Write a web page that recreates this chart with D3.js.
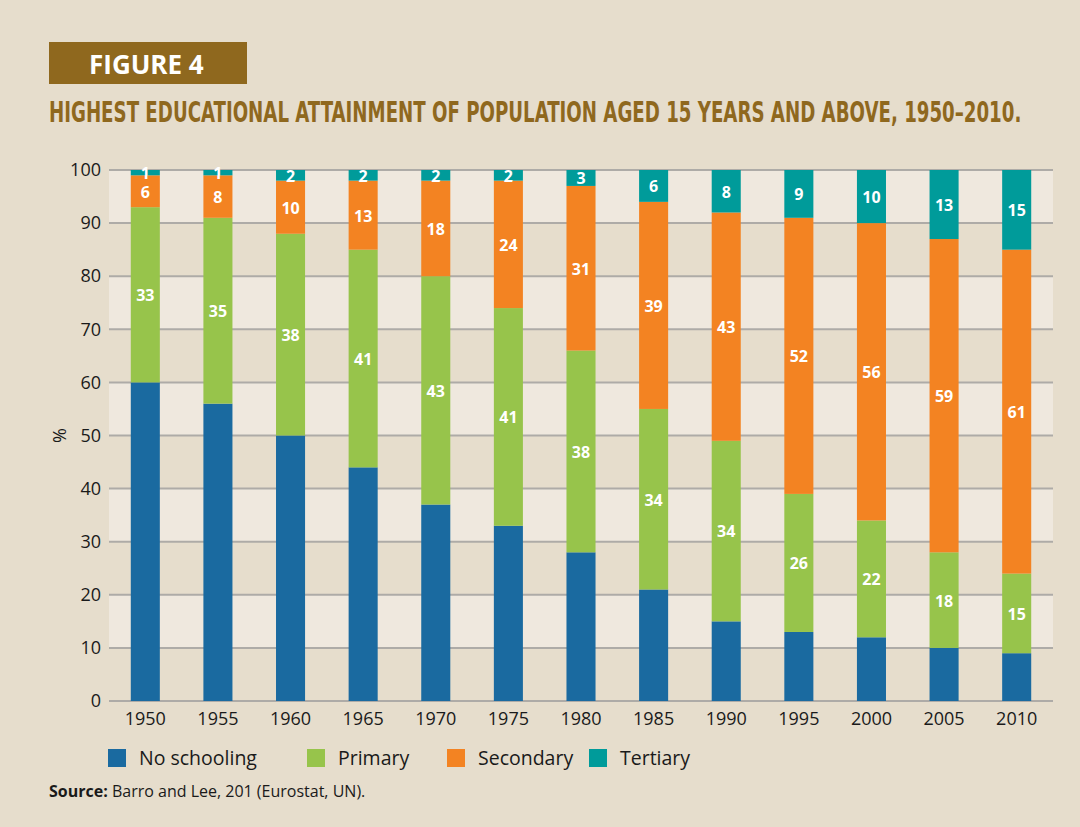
<!DOCTYPE html>
<html>
<head>
<meta charset="utf-8">
<script src="https://cdn.jsdelivr.net/npm/d3@7"></script>
<style>
  html, body { margin: 0; padding: 0; background: #e6ddcc; }
  svg { display: block; }
</style>
</head>
<body>
<svg id="chart"></svg>
<script>
const years = ['1950', '1955', '1960', '1965', '1970', '1975', '1980', '1985', '1990', '1995', '2000', '2005', '2010']
const noSchooling = [60, 56, 50, 44, 37, 33, 28, 21, 15, 13, 12, 10, 9]
const primary = [33, 35, 38, 41, 43, 41, 38, 34, 34, 26, 22, 18, 15]
const secondary = [6, 8, 10, 13, 18, 24, 31, 39, 43, 52, 56, 59, 61]
const tertiary = [1, 1, 2, 2, 2, 2, 3, 6, 8, 9, 10, 13, 15]
const seriesNames = ['No schooling', 'Primary', 'Secondary', 'Tertiary']
const yTicks = [0, 10, 20, 30, 40, 50, 60, 70, 80, 90, 100]

const color = {
  background: '#e6ddcc',
  band: '#efe8de',
  grid: '#aeaba7',
  brown: '#8f681e',
  text: '#1a1a1a',
  series: ['#1a6aa0', '#97c44b', '#f38322', '#009b9a']
}

const width = 1080
const height = 827
const margin = { top: 170, right: 28, bottom: 126, left: 109 }
const font = "'Open Sans', 'Noto Sans', sans-serif"

const svg = d3.select('#chart').attr('width', width).attr('height', height)

svg.append('rect')
  .attr('width', width)
  .attr('height', height)
  .attr('fill', color.background)

// header
svg.append('rect')
  .attr('x', 49)
  .attr('y', 42)
  .attr('width', 198)
  .attr('height', 42)
  .attr('fill', color.brown)

svg.append('text')
  .attr('x', 89)
  .attr('y', 74)
  .attr('fill', '#fff')
  .attr('font-family', font)
  .attr('font-weight', 700)
  .attr('font-size', 26)
  .text('FIGURE 4')

// condensed title, squeezed horizontally to the reference width
const title = svg.append('text')
  .attr('x', 0)
  .attr('y', 0)
  .attr('fill', color.brown)
  .attr('font-family', "'Liberation Sans Narrow', 'DejaVu Sans Condensed', 'DejaVu Sans', sans-serif")
  .attr('font-stretch', 'condensed')
  .attr('font-weight', 700)
  .attr('font-size', 28)
  .text('HIGHEST EDUCATIONAL ATTAINMENT OF POPULATION AGED 15 YEARS AND ABOVE, 1950\u20132010.')
const titleScale = 973 / title.node().getComputedTextLength()
title.attr('transform', 'translate(49,122) scale(' + titleScale + ',1)')

// scales
const x = d3.scaleBand()
  .domain(years)
  .range([margin.left, width - margin.right + 1])
  .paddingInner(0.6)
  .paddingOuter(0.3)

const y = d3.scaleLinear()
  .domain([0, 100])
  .range([height - margin.bottom, margin.top])

const plot = svg.append('g')

// alternating bands
plot.selectAll('.band')
  .data(yTicks.slice(1).filter((d) => (d / 10) % 2 === 0))
  .enter()
  .append('rect')
  .attr('class', 'band')
  .attr('x', margin.left)
  .attr('width', x.range()[1] - margin.left)
  .attr('y', (d) => y(d))
  .attr('height', (d) => y(d - 10) - y(d))
  .attr('fill', color.band)

// grid lines
plot.selectAll('.grid')
  .data(yTicks)
  .enter()
  .append('line')
  .attr('class', 'grid')
  .attr('x1', margin.left)
  .attr('x2', x.range()[1])
  .attr('y1', (d) => y(d))
  .attr('y2', (d) => y(d))
  .attr('stroke', color.grid)
  .attr('stroke-width', 2)

// y axis labels
const yAxis = d3.axisLeft(y).tickValues(yTicks).tickSize(0).tickPadding(8)
svg.append('g')
  .attr('transform', 'translate(' + margin.left + ',0)')
  .call(yAxis)
  .call((g) => g.select('.domain').remove())
  .selectAll('text')
  .attr('font-family', font)
  .attr('font-size', 18)
  .attr('fill', color.text)

// x axis labels
const xAxis = d3.axisBottom(x).tickSize(0).tickPadding(11)
svg.append('g')
  .attr('transform', 'translate(0,' + y(0) + ')')
  .call(xAxis)
  .call((g) => g.select('.domain').remove())
  .selectAll('text')
  .attr('font-family', font)
  .attr('font-size', 18)
  .attr('fill', color.text)

svg.append('text')
  .attr('transform', 'translate(66,' + y(50) + ') rotate(-90)')
  .attr('text-anchor', 'middle')
  .attr('font-family', font)
  .attr('font-size', 18)
  .attr('fill', color.text)
  .text('%')

// stacked bars
const rows = years.map((yr, i) => ({
  year: yr,
  'No schooling': noSchooling[i],
  Primary: primary[i],
  Secondary: secondary[i],
  Tertiary: tertiary[i]
}))

const stack = d3.stack().keys(seriesNames)(rows)

const layers = plot.selectAll('.layer')
  .data(stack)
  .enter()
  .append('g')
  .attr('class', 'layer')
  .attr('fill', (d, i) => color.series[i])

layers.selectAll('rect')
  .data((d) => d)
  .enter()
  .append('rect')
  .attr('x', (d) => x(d.data.year))
  .attr('width', x.bandwidth())
  .attr('y', (d) => y(d[1]))
  .attr('height', (d) => y(d[0]) - y(d[1]))

// value labels (not on the no schooling segment)
stack.slice(1).forEach((layer) => {
  plot.selectAll(null)
    .data(layer)
    .enter()
    .append('text')
    .attr('x', (d) => x(d.data.year) + x.bandwidth() / 2)
    .attr('y', (d) => y((d[0] + d[1]) / 2))
    .attr('dy', '0.4em')
    .attr('text-anchor', 'middle')
    .attr('font-family', font)
    .attr('font-weight', 700)
    .attr('font-size', 16)
    .attr('fill', '#fff')
    .text((d) => d[1] - d[0])
})

// legend
const legendX = [108, 307, 447, 589]
const legend = svg.selectAll('.legend')
  .data(seriesNames)
  .enter()
  .append('g')
  .attr('class', 'legend')
  .attr('transform', (d, i) => 'translate(' + legendX[i] + ',749)')

legend.append('rect')
  .attr('width', 18)
  .attr('height', 18)
  .attr('fill', (d, i) => color.series[i])

legend.append('text')
  .attr('x', 31)
  .attr('y', 16)
  .attr('font-family', font)
  .attr('font-size', 19.5)
  .attr('fill', color.text)
  .text((d) => d)

// source
const source = svg.append('text')
  .attr('x', 49)
  .attr('y', 797)
  .attr('font-family', font)
  .attr('font-size', 16)
  .attr('fill', color.text)

source.append('tspan').attr('font-weight', 700).text('Source:')
source.append('tspan').text(' Barro and Lee, 201 (Eurostat, UN).')
</script>
</body>
</html>
